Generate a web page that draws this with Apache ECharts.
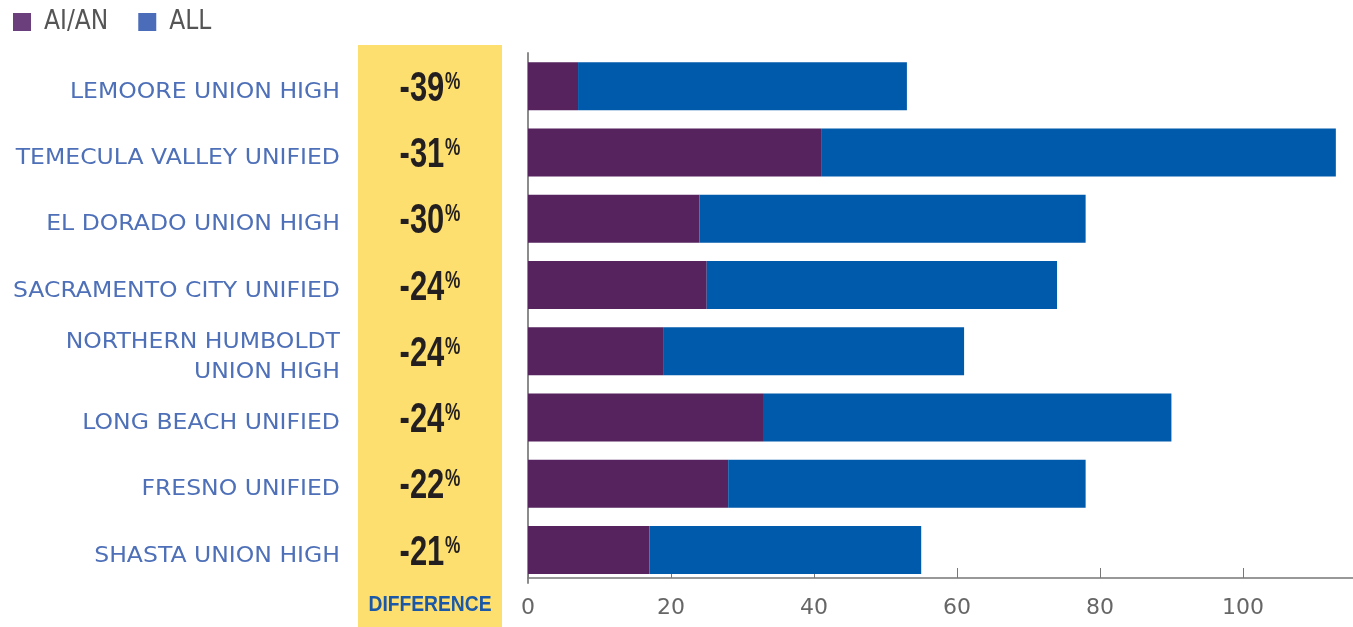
<!DOCTYPE html>
<html>
<head>
<meta charset="utf-8">
<script src="https://cdn.jsdelivr.net/npm/echarts@6/dist/echarts.min.js"></script>
<style>
html,body{margin:0;padding:0;background:#fff;}
#c{width:1353px;height:627px;}
</style>
</head>
<body>
<div id="c"></div>
<script>
const categories = [
  "LEMOORE UNION HIGH",
  "TEMECULA VALLEY UNIFIED",
  "EL DORADO UNION HIGH",
  "SACRAMENTO CITY UNIFIED",
  "NORTHERN HUMBOLDT\nUNION HIGH",
  "LONG BEACH UNIFIED",
  "FRESNO UNIFIED",
  "SHASTA UNION HIGH"
];
const aianValues = [7, 41, 24, 25, 19, 33, 28, 17];
const allValues = [46, 72, 54, 49, 42, 57, 50, 38];
const differenceLabels = ["-39", "-31", "-30", "-24", "-24", "-24", "-22", "-21"];
const xTicks = [0, 20, 40, 60, 80, 100];

const chart = echarts.init(document.getElementById('c'), null, {renderer: 'canvas'});
const sansBold = "'Liberation Sans', Arial, sans-serif";
const narrow = "'DejaVu Sans Condensed', 'Liberation Sans', sans-serif";

const option = {
  animation: false,
  backgroundColor: '#ffffff',
  graphic: [
    {type: 'rect', left: 358, top: 45, z: -10, shape: {width: 144, height: 582}, style: {fill: '#fcdf6e'}},
    {type: 'text', z: 10, x: 430, y: 605, scaleX: 0.875, originX: 0, originY: 0,
     style: {text: 'DIFFERENCE', fill: '#1b58a7', font: "bold 22px " + sansBold, align: 'center', verticalAlign: 'middle'}}
  ],
  legend: {
    left: 8, top: 4,
    itemWidth: 18, itemHeight: 18, itemGap: 30,
    icon: 'rect',
    textStyle: {color: '#555555', fontSize: 26, fontFamily: narrow, padding: [0, 0, 0, 8]},
    data: [
      {name: 'AI/AN', itemStyle: {color: '#6a3f7c'}},
      {name: 'ALL', itemStyle: {color: '#4a6cb9'}}
    ]
  },
  grid: {left: 528, right: 0, top: 53, bottom: 44, containLabel: false},
  xAxis: {
    type: 'value', min: 0, max: 115.4, interval: 20, offset: -5,
    axisLine: {show: true, lineStyle: {color: '#777777', width: 1.5}},
    axisTick: {show: true, inside: true, length: 10, lineStyle: {color: '#777777', width: 1}},
    splitLine: {show: false},
    axisLabel: {
      margin: 19, color: '#666666', fontSize: 22, fontFamily: "'DejaVu Sans', sans-serif",
      showMaxLabel: false,
      formatter: v => xTicks.indexOf(v) >= 0 ? String(v) : ''
    }
  },
  yAxis: {
    type: 'category', data: categories, inverse: true,
    axisLine: {show: true, lineStyle: {color: '#8c8c8c', width: 2}},
    axisTick: {show: false},
    axisLabel: {show: false}
  },
  series: [
    {
      name: 'AI/AN', type: 'bar', stack: 'total',
      data: aianValues, barWidth: 48,
      itemStyle: {color: '#56235f'}
    },
    {
      name: 'ALL', type: 'bar', stack: 'total',
      data: allValues, barWidth: 48,
      itemStyle: {color: '#005aab'}
    },
    {
      name: 'names', type: 'custom', clip: false, silent: true, z: 20,
      data: categories.map((c, i) => [0, i]),
      encode: {x: 0, y: 1},
      renderItem: function (params, api) {
        const pt = api.coord([0, api.value(1)]);
        return {
          type: 'text',
          x: pt[0] - 188, y: pt[1] + 6,
          scaleX: 1.07, originX: 0, originY: 0,
          style: {
            text: categories[params.dataIndex],
            align: 'right', verticalAlign: 'middle',
            fill: '#4e70b8', lineHeight: 30,
            font: "22px 'DejaVu Sans', sans-serif"
          }
        };
      }
    },
    {
      name: 'difference', type: 'custom', clip: false, silent: true, z: 20,
      data: differenceLabels.map((d, i) => [0, i]),
      encode: {x: 0, y: 1},
      renderItem: function (params, api) {
        const pt = api.coord([0, api.value(1)]);
        const label = differenceLabels[params.dataIndex];
        return {
          type: 'text',
          x: pt[0] - 98, y: pt[1] + 3,
          scaleX: 0.72, originX: 0, originY: 0,
          style: {
            text: '{n|' + label + '}{p|%}',
            align: 'center', verticalAlign: 'middle',
            rich: {
              n: {fontSize: 43, fontWeight: 'bold', fill: '#231f20', color: '#231f20', fontFamily: sansBold},
              p: {fontSize: 24, fontWeight: 'bold', fill: '#231f20', color: '#231f20', fontFamily: sansBold, padding: [0, 0, 14, 1]}
            }
          }
        };
      }
    }
  ]
};
chart.setOption(option);
</script>
</body>
</html>
